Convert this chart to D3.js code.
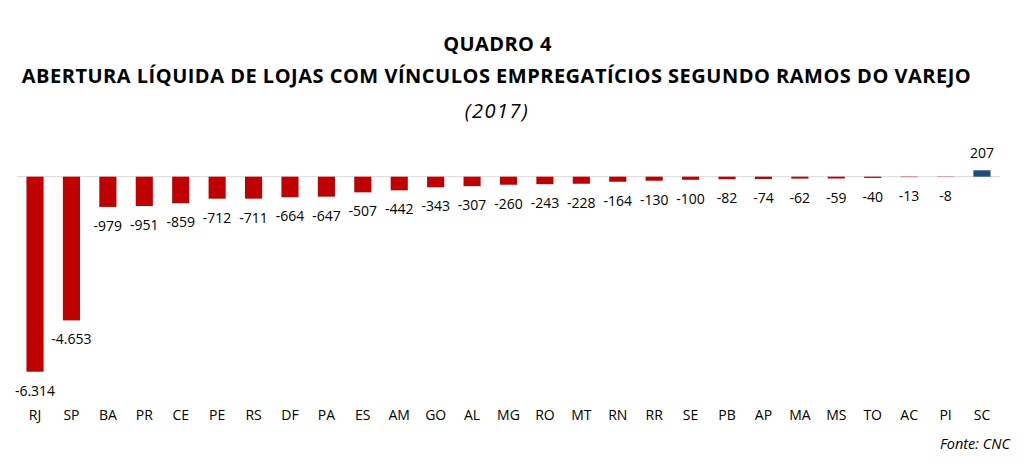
<!DOCTYPE html>
<html><head><meta charset="utf-8">
<script src="https://cdn.jsdelivr.net/npm/d3@7"></script>
<style>body{margin:0;background:#fff}svg{display:block}</style>
</head><body>
<script>
const categories = ["RJ","SP","BA","PR","CE","PE","RS","DF","PA","ES","AM","GO","AL","MG","RO","MT","RN","RR","SE","PB","AP","MA","MS","TO","AC","PI","SC"];
const values = [-6314,-4653,-979,-951,-859,-712,-711,-664,-647,-507,-442,-343,-307,-260,-243,-228,-164,-130,-100,-82,-74,-62,-59,-40,-13,-8,207];
const title1 = "QUADRO 4";
const title2 = "ABERTURA LÍQUIDA DE LOJAS COM VÍNCULOS EMPREGATÍCIOS SEGUNDO RAMOS DO VAREJO";
const subtitle = "(2017)";
const source = "Fonte: CNC";

const W = 1024, H = 470;
const svg = d3.select("body").append("svg").attr("width", W).attr("height", H);
const font = "'Open Sans', sans-serif";
const loc = d3.formatLocale({decimal: ",", thousands: ".", grouping: [3], currency: ["R$", ""], minus: "-"});
const fmt = loc.format(",d");

svg.append("text").attr("x", 497.5).attr("y", 51).attr("text-anchor", "middle")
  .attr("font-family", font).attr("font-weight", "bold").attr("font-size", 20).attr("letter-spacing", 0.4).attr("fill", "#000").text(title1);
svg.append("text").attr("x", 496.5).attr("y", 83).attr("text-anchor", "middle")
  .attr("font-family", font).attr("font-weight", "bold").attr("font-size", 20).attr("letter-spacing", 0.5).attr("fill", "#000").text(title2);
svg.append("text").attr("x", 497).attr("y", 118).attr("text-anchor", "middle")
  .attr("font-family", font).attr("font-style", "italic").attr("font-size", 20).attr("letter-spacing", 1.5).attr("fill", "#000").text(subtitle);

const x = d3.scaleBand().domain(categories).range([17, 1000]).paddingInner(0.53).paddingOuter(0.26);
const y = d3.scaleLinear().domain([-6314, 207]).range([371.7, 170.3]);
const y0 = y(0);

svg.append("line").attr("x1", 17).attr("x2", 1000).attr("y1", y0).attr("y2", y0)
  .attr("stroke", "#d9d9d9").attr("stroke-width", 1);

const data = categories.map((c, i) => ({c, v: values[i]}));

svg.selectAll("rect.bar").data(data).join("rect").attr("class", "bar")
  .attr("x", d => x(d.c)).attr("width", x.bandwidth())
  .attr("y", d => Math.min(y(d.v), y0)).attr("height", d => Math.abs(y(d.v) - y0))
  .attr("fill", d => d.v < 0 ? "#c00000" : "#1f4e79");

svg.selectAll("text.val").data(data).join("text").attr("class", "val")
  .attr("x", d => x(d.c) + x.bandwidth() / 2)
  .attr("y", d => d.v < 0 ? y(d.v) + 24 : y(d.v) - 12)
  .attr("text-anchor", "middle").attr("font-family", font).attr("font-size", 14).attr("fill", "#000")
  .text(d => fmt(d.v));

const xAxis = svg.append("g").attr("transform", `translate(0,${y0})`)
  .call(d3.axisBottom(x).tickSize(0).tickPadding(0));
xAxis.select(".domain").remove();
xAxis.selectAll("text").attr("y", 420 - y0).attr("dy", 0)
  .attr("font-family", font).attr("font-size", 14).attr("fill", "#000");

svg.append("text").attr("x", 1010).attr("y", 449).attr("text-anchor", "end")
  .attr("font-family", font).attr("font-style", "italic").attr("font-size", 14.5).attr("fill", "#000").text(source);
</script>
</body></html>
